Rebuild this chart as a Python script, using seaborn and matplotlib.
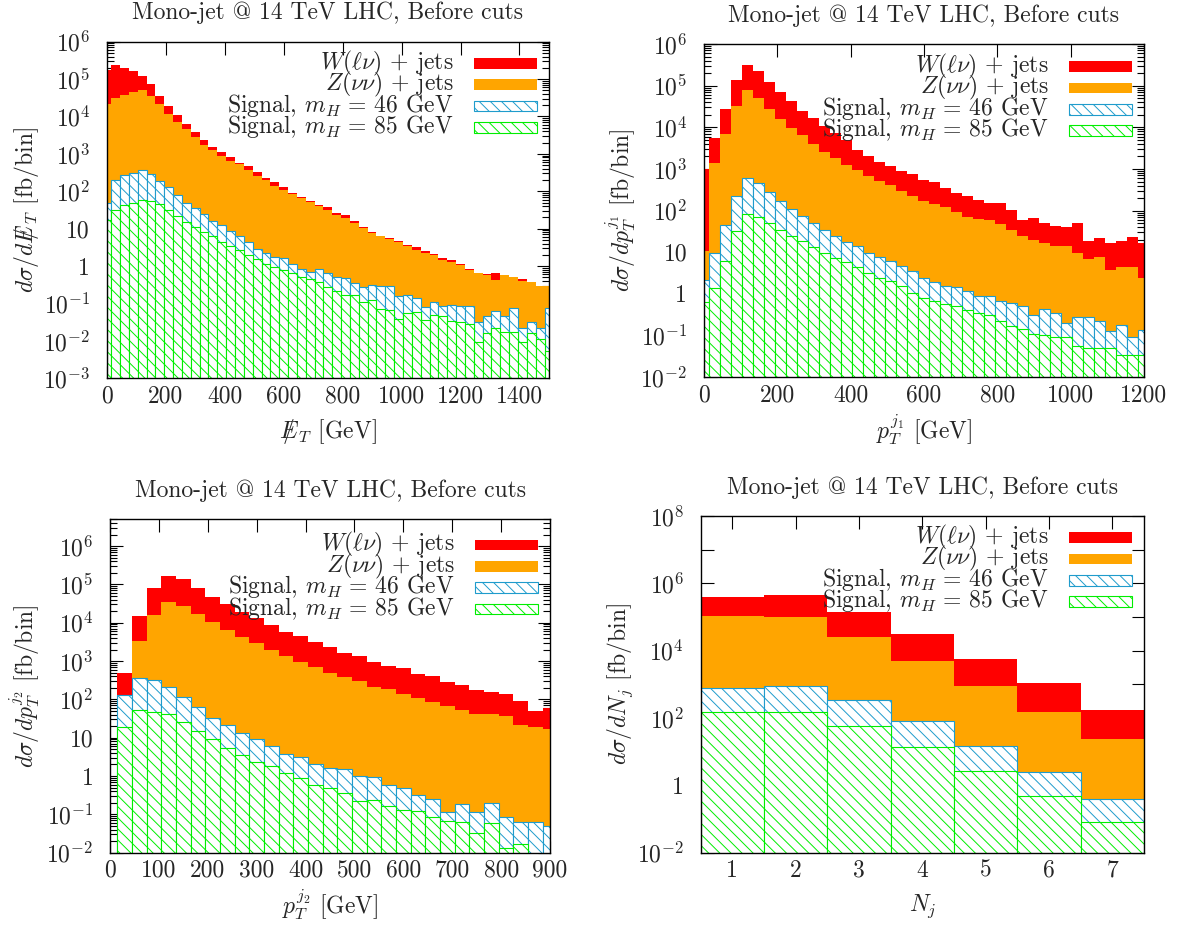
import numpy as np
import matplotlib
matplotlib.use("Agg")
import matplotlib.pyplot as plt
import seaborn as sns
from matplotlib.patches import Rectangle
from matplotlib.transforms import ScaledTranslation
from matplotlib.ticker import FixedLocator, LogLocator, NullFormatter, FuncFormatter, NullLocator

# ---- data (fb/bin), bins of 30 GeV centred on multiples of 30 ----
met_centers = np.arange(0, 1501, 30)
met_edges = np.concatenate([[0], np.arange(15, 1500, 30), [1500]])
met_wz = [1.7e5, 2.4e5, 1.95e5, 1.6e5, 1.2e5, 7.4e4, 3.6e4, 1.9e4, 1.07e4, 6.3e3,
          3.9e3, 2.3e3, 1.5e3, 1.15e3, 810, 575, 480, 330, 225, 180,
          130, 91, 72, 56, 43, 39, 27, 23, 16, 11,
          8.3, 6.3, 5.5, 4.7, 3.6, 3.3, 2.5, 2.1, 1.66, 1.45,
          1.15, 0.81, 0.65, 0.62, 0.65, 0.58, 0.52, 0.45, 0.38, 0.30, 0.30]
met_z = [2.2e4, 3.2e4, 3.7e4, 4.4e4, 5.1e4, 3.5e4, 2.1e4, 1.2e4, 7.2e3, 4.6e3,
         2.9e3, 1.74e3, 1.26e3, 870, 660, 525, 370, 257, 200, 138,
         107, 85, 65, 52, 41, 32, 23, 19.5, 14.5, 10.2,
         7.6, 6.2, 5.2, 4.3, 3.5, 2.7, 2.2, 2.0, 1.45, 1.32,
         1.07, 0.79, 0.65, 0.58, 0.43, 0.58, 0.51, 0.40, 0.38, 0.30, 0.30]
met_sig46 = [50, 200, 280, 316, 370, 290, 190, 129, 79, 50,
             35, 24, 16, 12.6, 8.7, 6.2, 4.3, 2.8, 2.2, 1.7,
             1.6, 1.17, 0.81, 0.71, 0.81, 0.65, 0.50, 0.47, 0.36, 0.27,
             0.32, 0.30, 0.30, 0.16, 0.17, 0.138, 0.081, 0.107, 0.087, 0.091,
             0.087, 0.087, 0.032, 0.045, 0.063, 0.045, 0.078, 0.022, 0.032, 0.022, 0.078]
met_sig85 = [17, 32, 42, 48, 60, 55, 45, 32, 22, 15.5,
             11, 8.3, 6.2, 4.5, 3.5, 2.7, 2.0, 1.55, 1.15, 0.93,
             0.78, 0.65, 0.52, 0.45, 0.38, 0.28, 0.21, 0.17, 0.17, 0.107,
             0.123, 0.069, 0.068, 0.038, 0.056, 0.060, 0.036, 0.049, 0.046, 0.034,
             0.031, 0.028, 0.0095, 0.0166, 0.022, 0.0178, 0.0178, 0.0095, 0.0158, 0.0112, 0.0054]

pt1_centers = np.arange(0, 1201, 30)
pt1_edges = np.concatenate([[0], np.arange(15, 1200, 30), [1200]])
pt1_wz = [980, 5.6e3, 2.75e4, 1.38e5, 3.2e5, 2.2e5, 1.2e5, 6.9e4, 4.3e4, 2.5e4,
          1.66e4, 1.1e4, 7.2e3, 5.0e3, 2.9e3, 2.0e3, 1.5e3, 1.15e3, 870, 740,
          550, 480, 350, 260, 224, 182, 155, 155, 105, 60,
          68, 50, 43, 40, 51, 19, 22, 16.6, 18.6, 23, 16.6]
pt1_z = [10.5, 1.4e3, 6.8e3, 3.2e4, 7.9e4, 5.1e4, 2.75e4, 1.55e4, 9.8e3, 6.6e3,
         4.0e3, 2.6e3, 1.8e3, 1.26e3, 955, 690, 525, 417, 288, 229,
         174, 145, 120, 95, 72, 63, 58, 47, 35, 24,
         20, 16.6, 14.1, 13.8, 9.5, 6.8, 7.9, 3.8, 4.4, 4.4, 2.4]
pt1_sig46 = [2.2, 9.5, 46, 224, 600, 457, 275, 174, 110, 74,
             51, 35, 25, 18, 13.8, 9.8, 7.9, 6.3, 4.7, 3.6,
             2.4, 1.9, 1.55, 1.45, 1.15, 0.89, 0.87, 0.69, 0.60, 0.50,
             0.32, 0.43, 0.35, 0.20, 0.28, 0.28, 0.22, 0.126, 0.18, 0.095, 0.14]
pt1_sig85 = [0.63, 1.41, 6.2, 32, 83, 69, 50, 35, 25, 18.6,
             13.2, 9.8, 7.4, 5.8, 4.4, 3.2, 2.4, 2.1, 1.55, 1.05,
             0.81, 0.69, 0.56, 0.50, 0.42, 0.35, 0.32, 0.22, 0.17, 0.141,
             0.110, 0.105, 0.091, 0.091, 0.056, 0.050, 0.050, 0.050, 0.035, 0.035, 0.035]

pt2_centers = np.arange(30, 901, 30)
pt2_edges = np.concatenate([np.arange(15, 900, 30), [900]])
pt2_wz = [480, 1.5e4, 7.9e4, 1.7e5, 1.35e5, 7.9e4, 4.8e4, 3.0e4, 1.95e4, 1.3e4,
          8.7e3, 5.9e3, 4.5e3, 3.1e3, 2.3e3, 1.6e3, 1.35e3, 955, 740, 645,
          457, 407, 288, 234, 174, 158, 135, 91, 50, 59]
pt2_z = [100, 3.3e3, 1.6e4, 3.5e4, 2.7e4, 1.66e4, 1.02e4, 6.5e3, 4.3e3, 2.9e3,
         2.0e3, 1.38e3, 955, 710, 500, 390, 302, 214, 186, 138,
         107, 87, 68, 52, 41, 41, 37, 22, 19.5, 16.6]
pt2_sig46 = [129, 370, 316, 214, 112, 62, 33, 22, 13.5, 9.1,
             6.0, 3.7, 3.2, 2.1, 1.6, 1.5, 1.0, 0.93, 0.60, 0.50,
             0.32, 0.25, 0.117, 0.19, 0.117, 0.195, 0.083, 0.065, 0.065, 0.050]
pt2_sig85 = [19.5, 52, 48, 42, 25, 14.8, 9.1, 5.5, 3.5, 2.3,
             1.8, 1.17, 0.87, 0.59, 0.48, 0.35, 0.22, 0.23, 0.166, 0.129,
             0.123, 0.087, 0.068, 0.065, 0.032, 0.059, 0.013, 0.017, 0, 0]

nj_centers = np.arange(1, 8)
nj_edges = np.arange(0.5, 8.0, 1.0)
nj_wz = [4.0e5, 4.5e5, 1.45e5, 3.2e4, 5.8e3, 1.07e3, 174]
nj_z = [1.1e5, 9.8e4, 2.6e4, 5.0e3, 890, 148, 23]
nj_sig46 = [794, 912, 339, 81, 14.8, 2.57, 0.38]
nj_sig85 = [155, 155, 59, 14.1, 2.7, 0.48, 0.083]

labels = [r"$W(\ell\nu)$ + jets", r"$Z(\nu\nu)$ + jets",
          r"Signal, $m_H\,=\,46$ GeV", r"Signal, $m_H\,=\,85$ GeV"]
title = "Mono-jet @ 14 TeV LHC, Before cuts"

RED = "#ff0000"
ORANGE = "#ffa500"
BLUE = "#1f9ccc"
GREEN = "#00ee00"
HATCH = "\\\\\\"
FS = 17

sns.set_style("ticks")
plt.rcParams["font.family"] = ["cmr10", "DejaVu Serif"]
plt.rcParams["mathtext.fontset"] = "cm"
plt.rcParams["axes.formatter.use_mathtext"] = True
plt.rcParams["font.size"] = FS
plt.rcParams["hatch.linewidth"] = 0.7
plt.rcParams["axes.unicode_minus"] = True

key_styles = [dict(facecolor=RED, edgecolor=RED, linewidth=0),
              dict(facecolor=ORANGE, edgecolor=ORANGE, linewidth=0),
              dict(facecolor="white", edgecolor=BLUE, hatch=HATCH, linewidth=0.8),
              dict(facecolor="white", edgecolor=GREEN, hatch=HATCH, linewidth=0.8)]


def log_label(v, pos, every=1):
    e = int(round(np.log10(v)))
    if e % every:
        return ""
    if e == 0:
        return "1"
    if e == 1:
        return "10"
    return r"$10^{%d}$" % e


def add_key(ax, first):
    # gnuplot-style key: right-justified text, sample box on the right (offsets in px)
    tr = ax.figure.dpi_scale_trans + ScaledTranslation(1, 1, ax.transAxes)
    pitch = 21.3
    for i, (lab, st) in enumerate(zip(labels, key_styles)):
        yc = -(first + pitch * i) / 100
        ax.add_patch(Rectangle((-0.75, yc - 0.053), 0.63, 0.106, transform=tr,
                               clip_on=False, zorder=5, **st))
        ax.text(-0.95, yc - 0.057, lab, transform=tr, ha="right", va="baseline",
                fontsize=FS, zorder=5)


def draw_panel(ax, centers, edges, wz, z, s46, s85, xlim, ylim, xticks,
               xlabel, ylabel, ylab_x, key_first, every=1, minor=True):
    edges = [float(e) for e in edges]
    centers = [float(c) for c in centers]
    sns.histplot(x=centers, weights=wz, bins=edges, element="step", fill=True,
                 color=RED, linewidth=0, alpha=1, ax=ax)
    sns.histplot(x=centers, weights=z, bins=edges, element="step", fill=True,
                 color=ORANGE, linewidth=0, alpha=1, ax=ax)
    sns.histplot(x=centers, weights=s46, bins=edges, element="bars", fill=True,
                 facecolor="white", edgecolor=BLUE, hatch=HATCH, linewidth=0.8,
                 alpha=1, ax=ax)
    sns.histplot(x=centers, weights=s85, bins=edges, element="bars", fill=True,
                 facecolor="white", edgecolor=GREEN, hatch=HATCH, linewidth=0.8,
                 alpha=1, ax=ax)
    ax.set_yscale("log")
    ax.set_xlim(*xlim)
    ax.set_ylim(*ylim)

    lo, hi = int(np.ceil(np.log10(ylim[0]))), int(np.floor(np.log10(ylim[1])))
    ax.yaxis.set_major_locator(FixedLocator(10.0 ** np.arange(lo, hi + 1)))
    ax.yaxis.set_major_formatter(FuncFormatter(lambda v, p: log_label(v, p, every)))
    if minor:
        ax.yaxis.set_minor_locator(LogLocator(base=10, subs=np.arange(2, 10), numticks=100))
    else:
        ax.yaxis.set_minor_locator(NullLocator())
    ax.yaxis.set_minor_formatter(NullFormatter())
    ax.set_xticks(xticks, [str(t) for t in xticks])
    ax.xaxis.set_minor_locator(NullLocator())

    ax.tick_params(which="both", direction="in", top=True, right=True, width=0.8, color="black")
    ax.tick_params(which="major", length=9)
    ax.tick_params(which="minor", length=5)
    ax.tick_params(axis="x", pad=5, labelsize=FS)
    ax.tick_params(axis="y", pad=12, labelsize=FS)
    for s in ax.spines.values():
        s.set_linewidth(1.0)
        s.set_color("black")

    ax.set_title(title, fontsize=FS, pad=16)
    ax.set_xlabel(xlabel, fontsize=FS)
    ax.set_ylabel(ylabel, fontsize=FS)
    ax.xaxis.set_label_coords(0.5, -0.158)
    ax.xaxis.label.set_va("center")
    ax.yaxis.set_label_coords(ylab_x, 0.5)
    ax.yaxis.label.set_va("center")
    add_key(ax, key_first)


fig = plt.figure(figsize=(11.77, 9.26), dpi=100)
ax1 = fig.add_axes([0.0907, 0.5915, 0.3757, 0.3635])
ax2 = fig.add_axes([0.5981, 0.5926, 0.3738, 0.3599])
ax3 = fig.add_axes([0.0935, 0.0792, 0.3738, 0.3600])
ax4 = fig.add_axes([0.5953, 0.0792, 0.3766, 0.3636])

met_sym = r"E\!\!\!\!/\,{}_T"
draw_panel(ax1, met_centers, met_edges, met_wz, met_z, met_sig46, met_sig85,
           (0, 1500), (1e-3, 1e6), list(range(0, 1401, 200)),
           r"$%s$ [GeV]" % met_sym, r"$d\sigma/d%s$ [fb/bin]" % met_sym, -0.182, 21.8)
draw_panel(ax2, pt1_centers, pt1_edges, pt1_wz, pt1_z, pt1_sig46, pt1_sig85,
           (0, 1200), (1e-2, 1e6), list(range(0, 1201, 200)),
           r"$p_T^{j_1}$ [GeV]", r"$d\sigma/dp_T^{j_1}$ [fb/bin]", -0.189, 22.7)
draw_panel(ax3, pt2_centers, pt2_edges, pt2_wz, pt2_z, pt2_sig46, pt2_sig85,
           (0, 900), (1e-2, 5e6), list(range(0, 901, 100)),
           r"$p_T^{j_2}$ [GeV]", r"$d\sigma/dp_T^{j_2}$ [fb/bin]", -0.193, 25.7)
draw_panel(ax4, nj_centers, nj_edges, nj_wz, nj_z, nj_sig46, nj_sig85,
           (0.5, 7.5), (1e-2, 1e8), list(range(1, 8)),
           r"$N_j$", r"$d\sigma/dN_j$ [fb/bin]", -0.182, 21.7, every=2, minor=False)

fig.savefig("out.png", dpi=100)
